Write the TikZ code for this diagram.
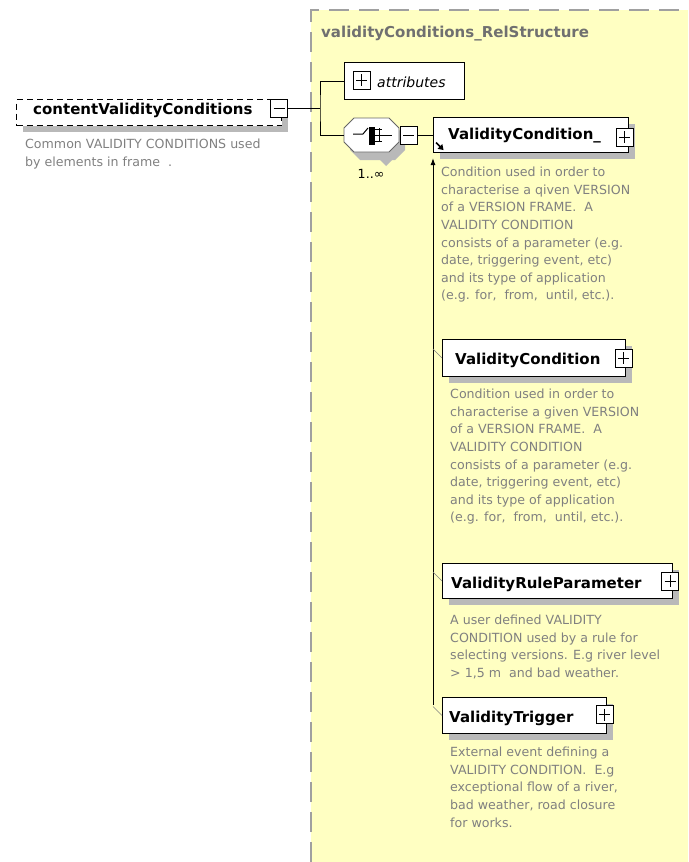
\documentclass[tikz,border=0pt]{standalone}
\usepackage{fontspec}
\setmainfont{DejaVu Sans}
\usetikzlibrary{shadows,arrows.meta,calc}
\definecolor{bgyellow}{RGB}{255,255,194}
\definecolor{descgray}{RGB}{128,128,128}
\definecolor{shadowgray}{RGB}{185,185,185}
\definecolor{framegray}{RGB}{160,160,160}
\definecolor{titlegray}{RGB}{112,112,112}
\tikzset{
  elembox/.style={draw=black, fill=white, line width=1pt, inner sep=0, anchor=north west,
    drop shadow={shadow xshift=6pt, shadow yshift=-6pt, fill=shadowgray, opacity=1}},
  namelbl/.style={anchor=base west, inner sep=0, font=\fontsize{15}{18}\selectfont\bfseries},
  desc/.style={anchor=north west, inner sep=0, align=left, text=descgray,
    font=\fontsize{12.6}{17.6}\selectfont},
  minusbox/.style={draw=black, fill=white, line width=1pt, inner sep=0,
    minimum width=17pt, minimum height=18pt,
    path picture={\draw[line width=1pt] ($(path picture bounding box.west)+(3,0)$) -- ($(path picture bounding box.east)+(-3,0)$);}},
  plusbox/.style={minusbox,
    path picture={\draw[line width=1pt] ($(path picture bounding box.west)+(3,0)$) -- ($(path picture bounding box.east)+(-3,0)$);
      \draw[line width=1pt] ($(path picture bounding box.north)+(0,3)$) -- ($(path picture bounding box.south)+(0,-3)$);}},
  conn/.style={draw=black, line width=1pt},
  subst/.style={draw=gray, line width=0.6pt},
  octo/.style={line width=0.9pt},
}
\begin{document}
\begin{tikzpicture}[x=1pt,y=-1pt]
\useasboundingbox (0,0) rectangle (688,862);
% complex type frame
\fill[bgyellow] (311,10) rectangle (688,862);
\draw[framegray, line width=1.3pt, dash pattern=on 20pt off 10pt] (311,862) -- (311,10) -- (688,10);
\node[anchor=base west, inner sep=0, text=titlegray, font=\fontsize{15}{18}\selectfont\bfseries] (ttl) at (321,37) {validityConditions\_RelStructure};

% content element (dashed = optional)
\node[elembox, dash pattern=on 6pt off 4pt, minimum width=265pt, minimum height=26pt] (cvc) at (16,99) {};
\node[namelbl] (cvcl) at (33,114) {contentValidityConditions};
\node[minusbox] (cvcm) at (279,108) {};
\node[desc] (cvcd) at (25,139) {Common VALIDITY CONDITIONS used\\by elements in frame~~.};

% attributes
\node[draw=black, fill=white, line width=1pt, inner sep=0, anchor=north west, minimum width=120pt, minimum height=37pt] (attr) at (344,62) {};
\node[plusbox] (attrp) at (361.5,80) {};
\node[anchor=base west, inner sep=0, font=\fontsize{14}{17}\selectfont\itshape] (attrl) at (377,87) {attributes};

% sequence compositor (octagon)
\fill[shadowgray, shift={(6,8)}] (344,128) -- (354,118) -- (389,118) -- (399,128) -- (399,142) -- (389,152) -- (354,152) -- (344,142) -- cycle;
\fill[shadowgray] (378,158) -- (394,158) -- (386,166) -- cycle;
\draw[octo, draw=black!60, fill=white] (344,128) -- (354,118) -- (389,118) -- (399,128) -- (399,142) -- (389,152) -- (354,152) -- (344,142) -- cycle;
\node[inner sep=0, minimum width=55pt, minimum height=34pt] (seq) at (371.5,135) {};
\draw[line width=1pt] (353,134) -- (363,134) -- (368,128);
\fill (369,127) rectangle (375,145);
\draw[line width=1pt] (379,128) -- (379,142);
\draw[line width=1pt] (375,135) -- (392,135);
\draw[line width=1pt] (375,129) -- (382,129);
\draw[line width=1pt] (375,141) -- (382,141);
\node[minusbox] (seqm) at (408.5,135) {};
\node[anchor=base, inner sep=0, font=\fontsize{12.6}{15}\selectfont] (card) at (371,178) {1..∞};

% ValidityCondition_
\node[elembox, minimum width=195pt, minimum height=35pt] (vc0) at (433,117) {};
\node[namelbl] (vc0l) at (448,139) {ValidityCondition\_};
\node[plusbox] (vc0p) at (624.5,137) {};
\draw[line width=1.6pt] (436,142.5) -- (440,146.5);
\fill (443.5,150) -- (437.5,148.8) -- (442.3,144) -- cycle;
\node[desc] (vc0d) at (441,167) {Condition used in order to\\characterise a qiven VERSION\\of a VERSION FRAME.~~A\\VALIDITY CONDITION\\consists of a parameter (e.g.\\date, triggering event, etc)\\and its type of application\\(e.g. for,~~from,~~until, etc.).};

% ValidityCondition
\node[elembox, minimum width=183pt, minimum height=37pt] (vc1) at (442,339) {};
\node[namelbl] (vc1l) at (455,364) {ValidityCondition};
\node[plusbox] (vc1p) at (623.5,358) {};
\node[desc] (vc1d) at (450,389) {Condition used in order to\\characterise a given VERSION\\of a VERSION FRAME.~~A\\VALIDITY CONDITION\\consists of a parameter (e.g.\\date, triggering event, etc)\\and its type of application\\(e.g. for,~~from,~~until, etc.).};

% ValidityRuleParameter
\node[elembox, minimum width=230pt, minimum height=35pt] (vc2) at (442,563) {};
\node[namelbl] (vc2l) at (451,588) {ValidityRuleParameter};
\node[plusbox] (vc2p) at (670,581) {};
\node[desc] (vc2d) at (450,615) {A user defined VALIDITY\\CONDITION used by a rule for\\selecting versions. E.g river level\\> 1,5 m~~and bad weather.};

% ValidityTrigger
\node[elembox, minimum width=164pt, minimum height=36pt] (vc3) at (442,697) {};
\node[namelbl] (vc3l) at (449,722) {ValidityTrigger};
\node[plusbox] (vc3p) at (604.5,714.5) {};
\node[desc] (vc3d) at (450,747) {External event defining a\\VALIDITY CONDITION.~~E.g\\exceptional flow of a river,\\bad weather, road closure\\for works.};

% connectors
\coordinate (j) at (320,108);
\draw[conn] (cvcm.east) -- (j);
\draw[conn] (attr.west) -| (j) |- (seq.west);
\draw[conn] (seqm.east) -- (seqm.east -| vc0.west);
\coordinate (sb) at (433,705);
\draw[conn, -{Latex[length=7pt,width=5pt]}] (sb) -- ($(vc0.south west)+(0,5)$);
\draw[subst] ($(vc1.west)+(-9,-9)$) -- (vc1.west);
\draw[subst] ($(vc2.west)+(-9,-9)$) -- (vc2.west);
\draw[subst] ($(vc3.west)+(-9,-9)$) -- (vc3.west);
\end{tikzpicture}
\end{document}
